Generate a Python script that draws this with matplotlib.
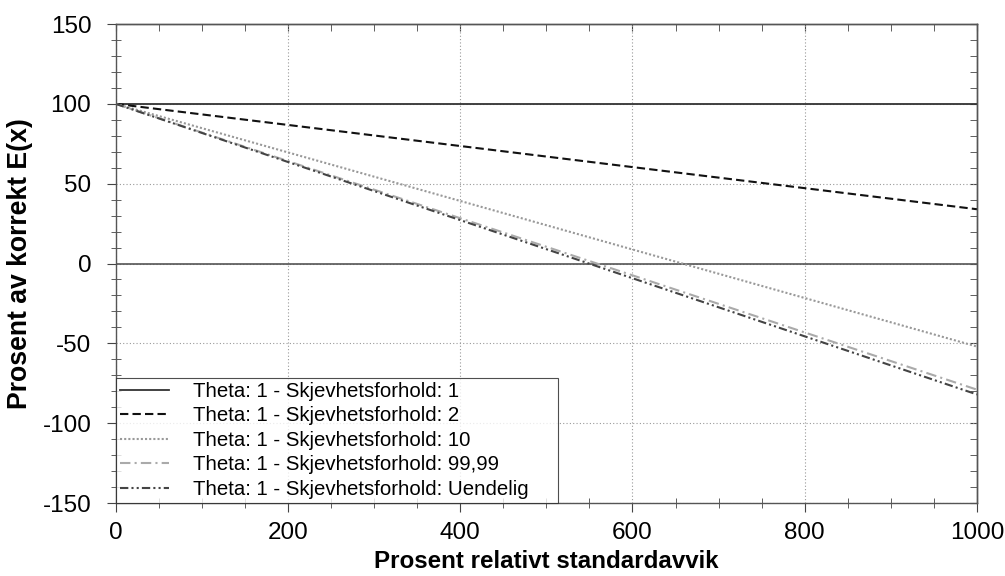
import matplotlib.pyplot as plt
from matplotlib.ticker import MultipleLocator

plt.rcParams["font.family"] = ["Liberation Sans", "DejaVu Sans"]
plt.rcParams["axes.unicode_minus"] = False

# Relative standard deviation (%) and resulting % of correct E(x)
x_pct = [0, 250, 500, 750, 1000]
skew_1 = [100, 100, 100, 100, 100]
skew_2 = [100, 83.5, 67, 50.5, 34]
skew_10 = [100, 62, 24, -14, -52]
skew_9999 = [100, 55.2, 10.5, -34.2, -79]
skew_inf = [100, 54.5, 9, -36.5, -82]

labels = [
    "Theta: 1 - Skjevhetsforhold: 1",
    "Theta: 1 - Skjevhetsforhold: 2",
    "Theta: 1 - Skjevhetsforhold: 10",
    "Theta: 1 - Skjevhetsforhold: 99,99",
    "Theta: 1 - Skjevhetsforhold: Uendelig",
]

fig = plt.figure(figsize=(10.05, 5.76), dpi=100)
ax = fig.add_axes([0.1151, 0.1267, 0.857, 0.8316])

ax.axhline(0, color="#555555", linewidth=1.2, zorder=1)
ax.plot(x_pct, skew_1, color="#333333", linewidth=1.3, label=labels[0])
ax.plot(x_pct, skew_2, color="#111111", linewidth=1.5, linestyle=(0, (4, 2)), label=labels[1])
ax.plot(x_pct, skew_10, color="#999999", linewidth=1.5, linestyle=(0, (1, 1)), label=labels[2])
ax.plot(x_pct, skew_9999, color="#aaaaaa", linewidth=1.5, linestyle=(0, (5, 2, 1, 2)), label=labels[3])
ax.plot(x_pct, skew_inf, color="#444444", linewidth=1.5, linestyle=(0, (4, 1.5, 1, 1.5, 1, 1.5)), label=labels[4])

ax.set_xlim(0, 1000)
ax.set_ylim(-150, 150)
ax.grid(True, which="major", color="#999999", linestyle=(0, (1, 2)), linewidth=0.8)
ax.set_axisbelow(True)

# bottom/left: major ticks outward, minor ticks crossing the spine
ax.tick_params(axis="both", which="both", labelsize=17.5, color="#444444")
ax.tick_params(axis="both", which="major", length=6.5, direction="out")
ax.tick_params(axis="both", which="minor", length=6.5, direction="inout")
ax.tick_params(axis="x", which="major", pad=7)
ax.tick_params(axis="y", which="major", pad=11)

# top/right: ticks pointing inward, no labels
top = ax.secondary_xaxis("top")
right = ax.secondary_yaxis("right")
for sec in (top, right):
    sec.tick_params(which="both", direction="in", length=5, labelsize=0, color="#444444")

for a in (ax.xaxis, top.xaxis):
    a.set_major_locator(MultipleLocator(200))
    a.set_minor_locator(MultipleLocator(50))
for a in (ax.yaxis, right.yaxis):
    a.set_major_locator(MultipleLocator(50))
    a.set_minor_locator(MultipleLocator(10))
top.set_xticklabels([])
right.set_yticklabels([])

for s in list(ax.spines.values()) + [top.spines["top"], right.spines["right"]]:
    s.set_color("#555555")
    s.set_linewidth(1.0)

ax.set_xlabel("Prosent relativt standardavvik", fontsize=17.4, fontweight="bold")
ax.set_ylabel("Prosent av korrekt E(x)", fontsize=19.2, fontweight="bold")
ax.xaxis.set_label_coords(0.5, -0.099)
ax.yaxis.set_label_coords(-0.096, 0.5)

leg = ax.legend(loc="lower left", bbox_to_anchor=(0, 0, 0.513, 1), mode="expand",
                fontsize=14.7, frameon=True, fancybox=False, borderaxespad=0,
                handlelength=2.4, labelspacing=0.27, borderpad=0.2, handletextpad=1.2)
leg.get_frame().set_edgecolor("#222222")
leg.get_frame().set_linewidth(0.8)

fig.savefig("out.png", dpi=100)
